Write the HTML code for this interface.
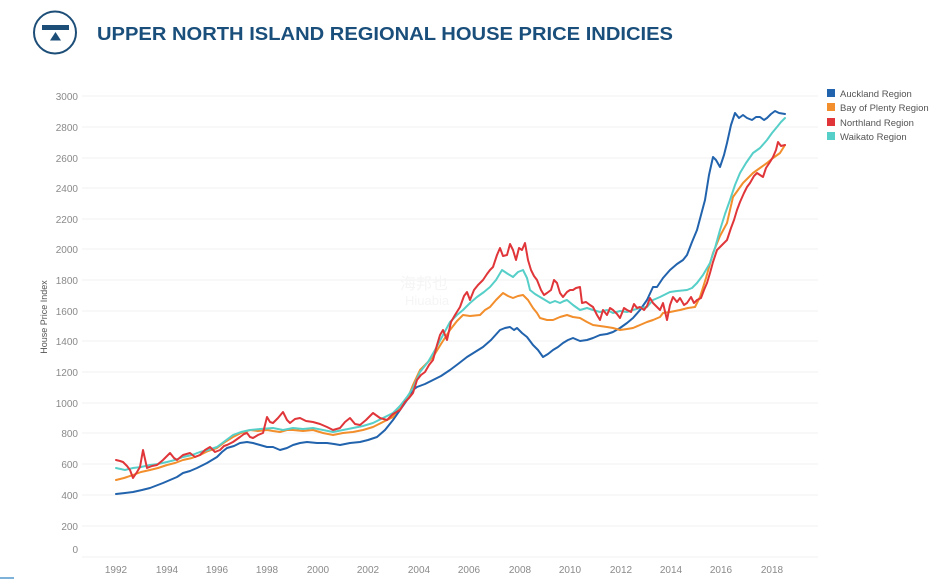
<!DOCTYPE html>
<html><head><meta charset="utf-8"><style>
html,body{margin:0;padding:0;background:#fff;}
svg{display:block;}
</style></head><body>
<svg width="946" height="579" viewBox="0 0 946 579" xmlns="http://www.w3.org/2000/svg" font-family="Liberation Sans, sans-serif">
<rect width="946" height="579" fill="#fff"/>
<!-- logo -->
<circle cx="55" cy="32.5" r="21" fill="none" stroke="#1d4e78" stroke-width="2"/>
<rect x="42" y="25" width="27" height="5" fill="#1d4e78"/>
<polygon points="55.5,32 61,40.5 50,40.5" fill="#1d4e78"/>
<text x="97" y="40" font-size="18" font-weight="bold" fill="#1a4f7c" textLength="576" lengthAdjust="spacingAndGlyphs">UPPER NORTH ISLAND REGIONAL HOUSE PRICE INDICIES</text>

<!-- gridlines -->
<g stroke="#f1f1f1" stroke-width="1">
<line x1="82" x2="818" y1="96" y2="96"/><line x1="82" x2="818" y1="127" y2="127"/>
<line x1="82" x2="818" y1="158" y2="158"/><line x1="82" x2="818" y1="188" y2="188"/>
<line x1="82" x2="818" y1="219" y2="219"/><line x1="82" x2="818" y1="249" y2="249"/>
<line x1="82" x2="818" y1="280" y2="280"/><line x1="82" x2="818" y1="311" y2="311"/>
<line x1="82" x2="818" y1="341" y2="341"/><line x1="82" x2="818" y1="372" y2="372"/>
<line x1="82" x2="818" y1="403" y2="403"/><line x1="82" x2="818" y1="433" y2="433"/>
<line x1="82" x2="818" y1="464" y2="464"/><line x1="82" x2="818" y1="495" y2="495"/>
<line x1="82" x2="818" y1="526" y2="526"/><line x1="82" x2="818" y1="557" y2="557"/>
</g>

<!-- y ticks -->
<g font-size="10" fill="#8a8a8a" text-anchor="end">
<text x="78" y="100">3000</text><text x="78" y="131">2800</text>
<text x="78" y="162">2600</text><text x="78" y="192">2400</text>
<text x="78" y="223">2200</text><text x="78" y="253">2000</text>
<text x="78" y="284">1800</text><text x="78" y="315">1600</text>
<text x="78" y="345">1400</text><text x="78" y="376">1200</text>
<text x="78" y="407">1000</text><text x="78" y="437">800</text>
<text x="78" y="468">600</text><text x="78" y="499">400</text>
<text x="78" y="530">200</text><text x="78" y="553">0</text>
</g>
<text transform="translate(47,317) rotate(-90)" font-size="9" fill="#555" text-anchor="middle">House Price Index</text>

<!-- x ticks -->
<g font-size="10" fill="#8a8a8a" text-anchor="middle">
<text x="116" y="573">1992</text><text x="167" y="573">1994</text>
<text x="217" y="573">1996</text><text x="267" y="573">1998</text>
<text x="318" y="573">2000</text><text x="368" y="573">2002</text>
<text x="419" y="573">2004</text><text x="469" y="573">2006</text>
<text x="520" y="573">2008</text><text x="570" y="573">2010</text>
<text x="621" y="573">2012</text><text x="671" y="573">2014</text>
<text x="721" y="573">2016</text><text x="772" y="573">2018</text>
</g>

<!-- watermark -->
<text x="400" y="289" font-size="16" fill="#f5f5f5" font-family="Liberation Sans, Noto Sans CJK SC, sans-serif">海邦也</text>
<text x="405" y="305" font-size="13" fill="#f5f5f5">Hiuabia</text>

<g fill="none" stroke-width="2" stroke-linejoin="round" stroke-linecap="round">
<polyline stroke="#2263ad" points="116,494 125,493 133,492 142,490 150,488 163,483 170,480 177,477 183,473 190,471 197,468 207,463 217,457 222,452 227,448 234,446 240,443 247,442 253,443 260,445 267,447 273,447 280,450 287,448 293,445 300,443 307,442 317,443 327,443 334,444 340,445 350,443 360,442 368,440 377,437 385,430 393,420 400,410 407,400 413,390 417,387 425,384 433,380 441,376 450,370 458,364 467,357 475,352 483,347 491,340 500,330 505,328 510,327 514,330 517,328 522,333 527,337 533,345 538,350 543,357 548,354 553,350 558,347 563,343 568,340 573,338 580,341 587,340 593,338 600,335 607,334 613,332 620,328 627,323 633,318 640,310 647,300 653,287 657,287 663,278 670,270 677,264 683,260 687,255 692,242 697,230 701,215 705,200 709,175 713,157 716,160 720,167 724,155 727,143 731,125 735,113 739,118 743,115 747,118 752,120 756,117 760,117 764,120 767,118 771,114 775,111 779,113 785,114"/>
<polyline stroke="#f28e2b" points="116,480 124,478 133,475 141,472 150,470 158,468 167,465 175,463 183,460 192,458 200,455 208,451 217,448 225,442 233,437 241,433 250,430 258,431 267,430 273,431 280,432 287,430 293,430 303,431 313,430 323,433 333,435 343,433 353,432 363,430 373,427 383,422 393,417 400,406 407,400 413,385 420,370 427,363 433,357 441,344 450,330 457,321 463,315 470,316 480,315 485,310 490,307 496,300 503,293 508,296 513,298 518,296 523,295 528,300 533,308 537,313 540,318 547,320 553,320 560,317 567,315 573,317 580,318 587,322 593,325 600,326 607,327 613,328 620,330 627,329 633,328 640,325 647,322 653,320 660,317 663,313 670,312 680,310 688,308 695,307 700,297 706,278 713,253 720,236 727,223 733,197 738,190 743,183 748,178 753,173 760,168 767,163 773,158 780,153 785,145"/>
<polyline stroke="#57cfc9" points="116,468 125,470 133,468 141,467 150,465 158,464 167,462 175,460 183,457 192,455 200,452 208,450 217,447 225,441 233,435 241,432 250,430 260,429 273,428 283,430 293,428 303,429 313,428 323,430 333,432 343,430 353,428 363,426 373,423 383,418 393,413 400,406 407,397 413,388 420,372 428,362 435,350 443,335 450,322 457,315 463,310 470,303 477,297 484,292 490,287 496,280 502,270 508,274 513,277 518,272 523,270 527,278 530,290 535,294 540,297 545,300 550,303 555,301 560,303 564,301 567,300 573,305 580,310 587,308 593,310 600,312 607,310 613,313 620,311 627,312 633,310 640,308 647,307 653,300 660,297 666,294 670,292 677,291 687,290 692,288 697,283 703,275 710,263 715,248 720,230 725,214 730,200 735,185 740,173 746,163 753,153 760,148 767,140 772,133 777,127 781,122 785,118"/>
<polyline stroke="#e0363a" points="116,460 120,461 123,462 127,466 130,470 133,478 137,472 140,467 143,450 147,468 152,466 157,465 163,460 170,453 174,458 177,460 183,455 190,453 195,457 200,455 205,450 210,447 215,452 220,450 224,446 227,445 233,442 240,437 244,434 247,433 250,437 253,438 258,435 263,433 267,417 270,422 273,423 278,418 283,412 287,420 290,423 295,419 300,418 306,421 313,422 320,424 327,427 333,430 340,428 345,422 350,418 355,424 360,425 366,420 373,413 380,418 387,420 393,414 400,410 405,402 409,398 413,393 417,380 421,375 425,372 429,365 433,360 437,345 440,335 443,330 447,340 451,322 455,315 460,307 464,296 467,292 470,300 474,290 478,285 483,280 487,274 490,270 493,267 497,255 500,248 503,256 507,255 510,244 513,250 516,260 519,248 522,250 525,243 528,260 531,270 534,276 537,280 541,290 544,295 547,293 551,290 554,280 557,283 560,293 563,297 567,292 570,290 573,290 576,288 580,287 582,303 586,302 590,305 593,307 597,315 600,320 603,310 607,315 610,308 613,310 617,314 620,318 624,308 627,310 631,312 634,304 637,308 640,307 644,310 647,306 650,298 653,303 657,307 660,310 663,303 667,320 670,305 673,297 677,302 680,298 684,305 687,303 691,297 694,303 697,300 701,298 704,290 707,283 710,273 713,262 717,250 720,247 724,243 727,240 731,228 734,220 737,210 740,202 744,193 747,187 750,183 754,176 757,173 760,175 763,177 766,168 770,162 773,157 776,150 778,142 781,146 785,145"/>
</g>

<!-- legend -->
<g font-size="9.5" fill="#555">
<rect x="827" y="89" width="8" height="8" fill="#2263ad"/><text x="840" y="97">Auckland Region</text>
<rect x="827" y="103" width="8" height="8" fill="#f28e2b"/><text x="840" y="111">Bay of Plenty Region</text>
<rect x="827" y="118" width="8" height="8" fill="#e0363a"/><text x="840" y="126">Northland Region</text>
<rect x="827" y="132" width="8" height="8" fill="#57cfc9"/><text x="840" y="140">Waikato Region</text>
</g>
<rect x="0" y="577" width="14" height="2" fill="#7fb2d9"/>
</svg>
</body></html>
